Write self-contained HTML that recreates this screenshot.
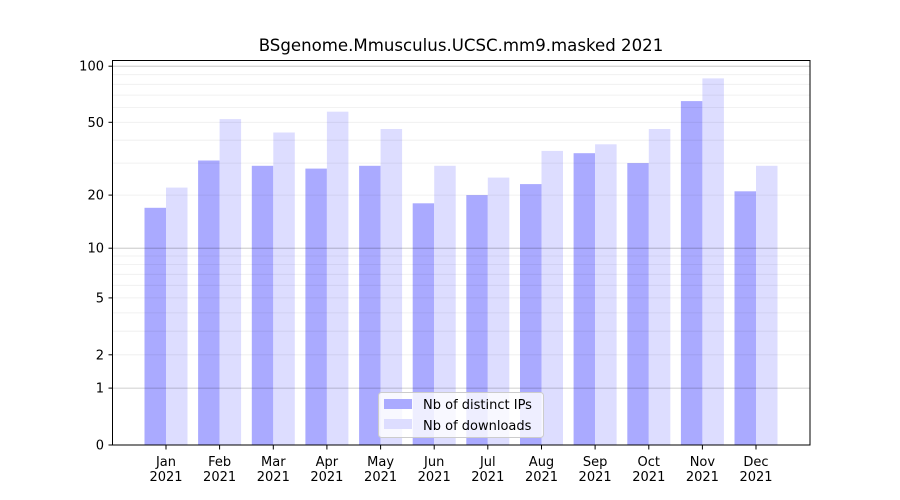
<!DOCTYPE html>
<html><head><meta charset="utf-8"><style>
html,body{margin:0;padding:0;background:#fff;}
svg{display:block;font-family:"DejaVu Sans","Liberation Sans",sans-serif;}
</style></head><body>
<svg id="s" width="900" height="500" viewBox="0 0 900 500" xmlns="http://www.w3.org/2000/svg"></svg>
<script>
const s=document.getElementById('s');
const Y=v=>445-189*Math.log10(1+v);
let h='<rect width="900" height="500" fill="#fff"/>';
const months=['Jan','Feb','Mar','Apr','May','Jun','Jul','Aug','Sep','Oct','Nov','Dec'];
const ips=[17,31,29,28,29,18,20,23,34,30,65,21];
const dl=[22,52,44,57,46,29,25,35,38,46,86,29];
const x0=166,dx=53.64;
for(let i=0;i<12;i++){
 const c=x0+dx*i;
 h+=`<rect x="${(c-21.5).toFixed(1)}" y="${Y(ips[i]).toFixed(1)}" width="21.5" height="${(445-Y(ips[i])).toFixed(1)}" fill="#aaaaff"/>`;
 h+=`<rect x="${c.toFixed(1)}" y="${Y(dl[i]).toFixed(1)}" width="21.5" height="${(445-Y(dl[i])).toFixed(1)}" fill="#ddddff"/>`;
}
const minor=[2,3,4,5,6,7,8,9,20,30,40,50,60,70,80,90];
minor.forEach(v=>{const y=Y(v).toFixed(1);h+=`<line x1="113" x2="810" y1="${y}" y2="${y}" stroke="#000" stroke-opacity="0.07" stroke-width="0.8"/>`;});
[1,10,100].forEach(v=>{const y=Y(v).toFixed(1);h+=`<line x1="113" x2="810" y1="${y}" y2="${y}" stroke="#000" stroke-opacity="0.25" stroke-width="0.8"/>`;});
h+='<rect x="112.5" y="60.5" width="697.5" height="384.5" fill="none" stroke="#000" stroke-width="1"/>';
[[0,'0'],[1,'1'],[2,'2'],[5,'5'],[10,'10'],[20,'20'],[50,'50'],[100,'100']].forEach(([v,t])=>{
 const y=Y(v);h+=`<line x1="108.5" x2="113" y1="${y.toFixed(1)}" y2="${y.toFixed(1)}" stroke="#000"/>`;
 h+=`<text x="104" y="${(y+4.5).toFixed(1)}" font-size="13" text-anchor="end">${t}</text>`;});
for(let i=0;i<12;i++){const c=x0+dx*i;
 h+=`<line x1="${c.toFixed(1)}" x2="${c.toFixed(1)}" y1="445" y2="449.5" stroke="#000"/>`;
 h+=`<text x="${c.toFixed(1)}" y="466" font-size="13" text-anchor="middle">${months[i]}</text>`;
 h+=`<text x="${c.toFixed(1)}" y="481" font-size="13" text-anchor="middle">2021</text>`;}
h+='<text x="461" y="51" font-size="16.6" text-anchor="middle">BSgenome.Mmusculus.UCSC.mm9.masked 2021</text>';
h+='<rect x="378.5" y="392.5" width="165" height="45" rx="3" fill="#fff" fill-opacity="0.8" stroke="#ccc"/>';
h+='<rect x="384" y="399" width="28" height="10" fill="#aaaaff"/><rect x="384" y="419" width="28" height="10" fill="#ddddff"/>';
h+='<text x="423" y="409" font-size="13">Nb of distinct IPs</text><text x="423" y="430" font-size="13">Nb of downloads</text>';
s.innerHTML=h;
</script>
</body></html>
